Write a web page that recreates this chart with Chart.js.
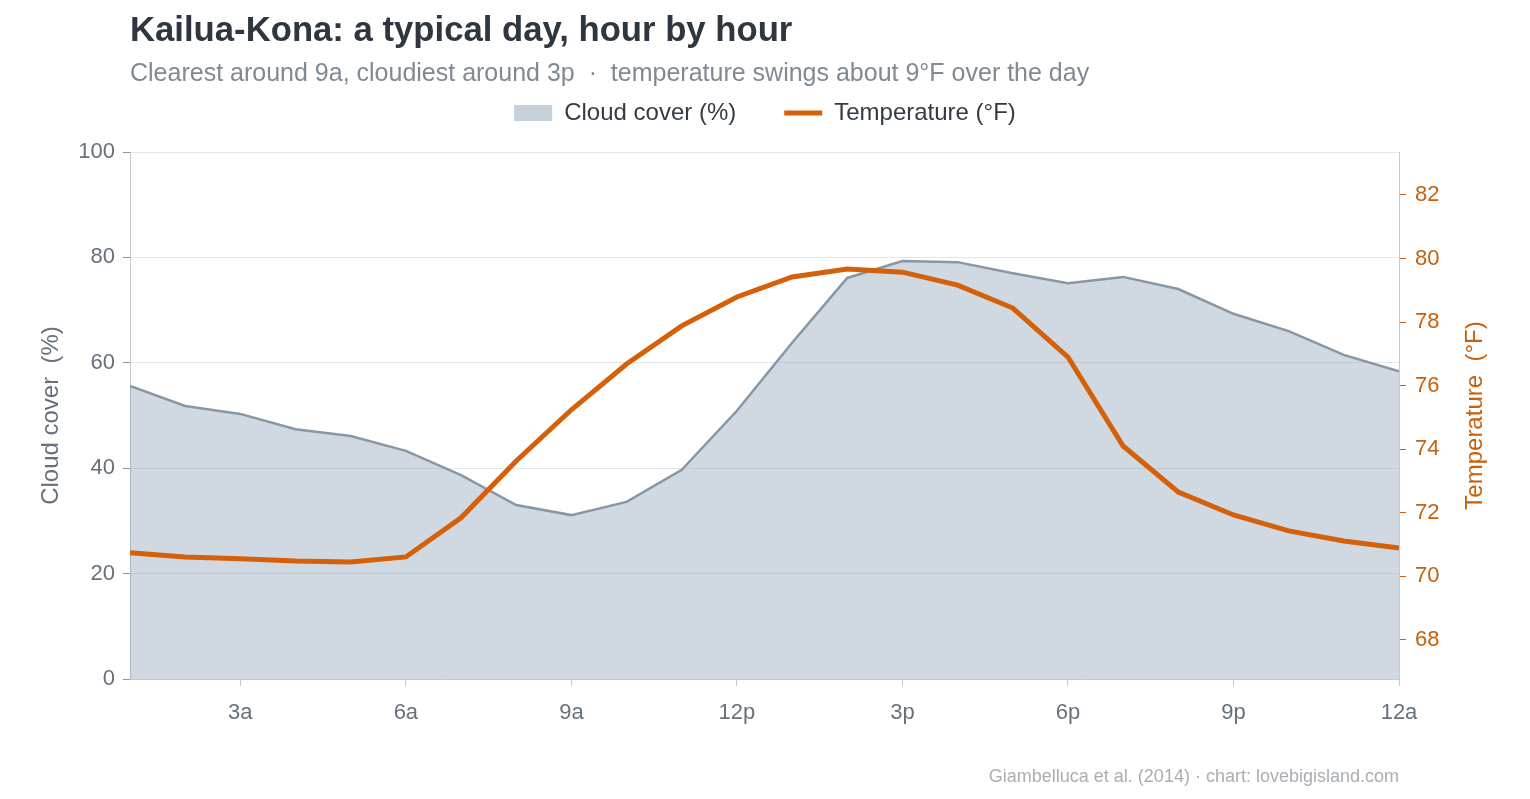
<!DOCTYPE html>
<html>
<head>
<meta charset="utf-8">
<title>Kailua-Kona: a typical day, hour by hour</title>
<script src="https://cdn.jsdelivr.net/npm/chart.js@4.4.1/dist/chart.umd.min.js"></script>
<style>
  html, body { margin: 0; padding: 0; background: #fff; }
  body { width: 1530px; height: 799px; position: relative; overflow: hidden; font-family: "Liberation Sans", Arial, sans-serif; }
  #wrap { position: absolute; left: 0; top: 0; width: 1530px; height: 799px; }
  .title { position: absolute; left: 130px; top: 9px; margin: 0; font-size: 34.7px; line-height: 40px; font-weight: bold; color: #2e3640; }
  .subtitle { position: absolute; left: 130px; top: 56px; margin: 0; font-size: 25px; line-height: 32px; color: #7f8a94; white-space: pre; }
  .footer { position: absolute; right: 131px; top: 765px; font-size: 18px; line-height: 22px; color: #a9aeb3; }
</style>
</head>
<body>
<div id="wrap"><canvas id="chart" width="1530" height="799"></canvas></div>
<h1 class="title">Kailua-Kona: a typical day, hour by hour</h1>
<p class="subtitle">Clearest around 9a, cloudiest around 3p  ·  temperature swings about 9°F over the day</p>
<div class="footer">Giambelluca et al. (2014) · chart: lovebigisland.com</div>
<script>
// hour of day, 1 = 1am ... 24 = midnight
const hours = [1, 2, 3, 4, 5, 6, 7, 8, 9, 10, 11, 12, 13, 14, 15, 16, 17, 18, 19, 20, 21, 22, 23, 24]
const hourTicks = [3, 6, 9, 12, 15, 18, 21, 24]
const hourTickLabels = ['3a', '6a', '9a', '12p', '3p', '6p', '9p', '12a']

const cloudCover = [55.6, 51.8, 50.3, 47.4, 46.1, 43.3, 38.7, 33.0, 31.1, 33.6, 39.7, 50.9,
  63.8, 76.1, 79.3, 79.1, 77.0, 75.1, 76.3, 74.0, 69.3, 66.0, 61.5, 58.4]
const temperature = [70.74, 70.61, 70.55, 70.48, 70.45, 70.61, 71.84, 73.63, 75.24, 76.68, 77.88, 78.79,
  79.42, 79.67, 79.57, 79.16, 78.44, 76.90, 74.10, 72.65, 71.93, 71.43, 71.11, 70.89]

const cloudTicks = [0, 20, 40, 60, 80, 100]
const tempTicks = [68, 70, 72, 74, 76, 78, 80, 82]

const tempColor = '#d4600a'
const tempText = '#c7600d'
const greyText = '#66717d'
const axisLine = '#c3c9cf'
const font = '"Liberation Sans", Arial, sans-serif'

// keeps some room between the legend and the plot
const legendGap = {
  id: 'legendGap',
  beforeInit(chart) {
    Chart.layouts.addBox(chart, {
      position: 'top', weight: 900, fullSize: true, options: {},
      left: 0, top: 0, right: 0, bottom: 0, width: 0, height: 0,
      isHorizontal() { return true },
      update(maxWidth) { this.width = maxWidth; this.height = 17 },
      getPadding() { return { left: 0, top: 0, right: 0, bottom: 0 } },
      draw() {}
    })
  }
}

// right axis title reads bottom-to-top like the left one
const rightAxisTitle = {
  id: 'rightAxisTitle',
  afterDraw(chart) {
    const { ctx, chartArea, scales } = chart
    ctx.save()
    ctx.translate(scales.y1.right - 55, (chartArea.top + chartArea.bottom) / 2)
    ctx.rotate(-Math.PI / 2)
    ctx.font = '24px ' + font
    ctx.fillStyle = tempText
    ctx.textAlign = 'center'
    ctx.textBaseline = 'middle'
    ctx.fillText('Temperature  (°F)', 0, 0)
    ctx.restore()
  }
}

const ctx = document.getElementById('chart').getContext('2d')
new Chart(ctx, {
  type: 'line',
  data: {
    datasets: [
      {
        label: 'Cloud cover (%)',
        data: hours.map((h, i) => ({ x: h, y: cloudCover[i] })),
        yAxisID: 'y',
        borderColor: '#8797a4',
        borderWidth: 2.5,
        backgroundColor: 'rgba(138, 160, 180, 0.4)',
        fill: 'origin',
        pointRadius: 0,
        tension: 0,
        order: 2
      },
      {
        label: 'Temperature (°F)',
        data: hours.map((h, i) => ({ x: h, y: temperature[i] })),
        yAxisID: 'y1',
        borderColor: tempColor,
        borderWidth: 5,
        backgroundColor: tempColor,
        fill: false,
        pointRadius: 0,
        tension: 0,
        order: 1
      }
    ]
  },
  options: {
    responsive: false,
    animation: false,
    layout: { padding: { top: 53, left: 0, right: 0, bottom: 0 } },
    plugins: {
      tooltip: { enabled: false },
      title: { display: false },
      legend: {
        position: 'top',
        labels: {
          usePointStyle: true,
          pointStyleWidth: 38,
          boxHeight: 16,
          padding: 48,
          color: '#333b45',
          font: { family: font, size: 24 },
          sort: (a, b) => a.datasetIndex - b.datasetIndex,
          generateLabels(chart) {
            const items = Chart.defaults.plugins.legend.labels.generateLabels(chart)
            items.forEach(it => {
              if (it.datasetIndex === 0) {
                it.pointStyle = 'rect'
                it.fillStyle = '#c6d0d9'
                it.strokeStyle = '#c6d0d9'
                it.lineWidth = 0
              } else {
                it.pointStyle = 'line'
                it.strokeStyle = tempColor
                it.lineWidth = 5
              }
            })
            return items
          }
        }
      }
    },
    scales: {
      x: {
        type: 'linear',
        min: hours[0],
        max: hours[hours.length - 1],
        afterBuildTicks: s => { s.ticks = hourTicks.map(v => ({ value: v })) },
        afterFit: s => { s.height = 120 },
        grid: { drawOnChartArea: false, tickLength: 7, color: axisLine },
        border: { color: axisLine, width: 1 },
        ticks: {
          padding: 14,
          color: greyText,
          font: { family: font, size: 22 },
          maxRotation: 0,
          callback: v => hourTickLabels[hourTicks.indexOf(v)]
        }
      },
      y: {
        position: 'left',
        min: cloudTicks[0],
        max: cloudTicks[cloudTicks.length - 1],
        afterBuildTicks: s => { s.ticks = cloudTicks.map(v => ({ value: v })) },
        afterFit: s => { s.width = 130 },
        grid: { color: '#e4e7ea', tickLength: 7, tickColor: '#8e979f' },
        border: { color: axisLine, width: 1 },
        ticks: {
          padding: 8,
          color: greyText,
          font: { family: font, size: 22 }
        },
        title: {
          display: true,
          text: 'Cloud cover  (%)',
          color: greyText,
          padding: { top: 37, bottom: 0 },
          font: { family: font, size: 24 }
        }
      },
      y1: {
        position: 'right',
        min: 66.77,
        max: 83.35,
        afterBuildTicks: s => { s.ticks = tempTicks.map(v => ({ value: v })) },
        afterFit: s => { s.width = 131 },
        grid: { drawOnChartArea: false, tickLength: 7, color: tempText },
        border: { color: axisLine, width: 1 },
        ticks: {
          padding: 9,
          color: tempText,
          font: { family: font, size: 22 }
        }
      }
    }
  },
  plugins: [legendGap, rightAxisTitle]
})
</script>
</body>
</html>
